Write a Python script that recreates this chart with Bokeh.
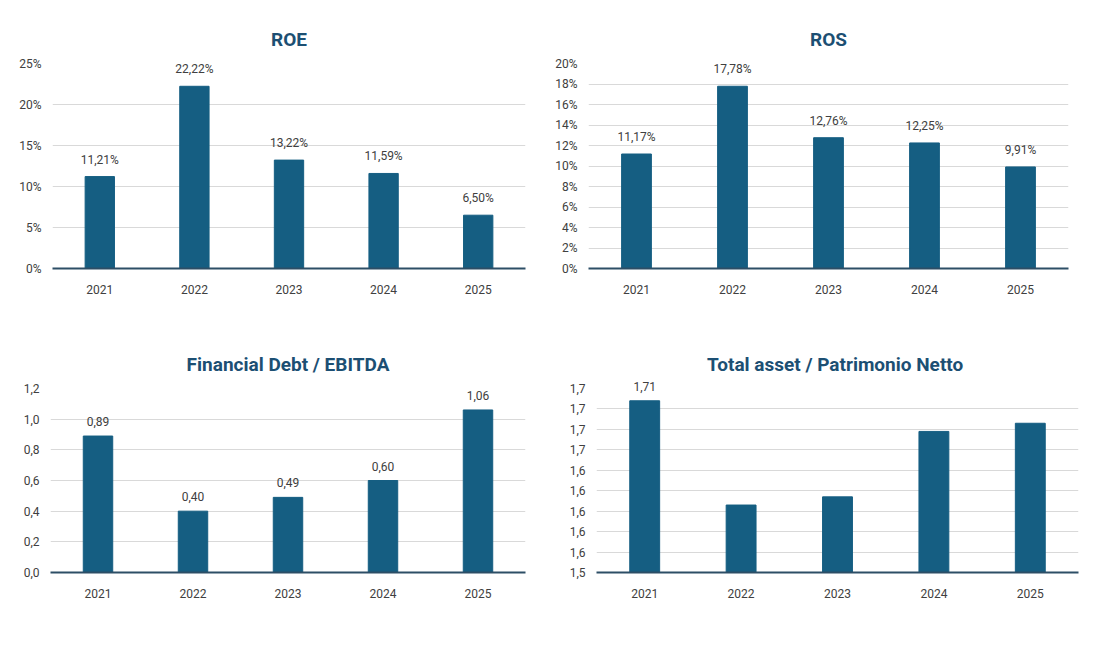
from bokeh.plotting import figure
from bokeh.layouts import row, column
from bokeh.models import ColumnDataSource, FixedTicker, Range1d
from bokeh.embed import file_html
from bokeh.resources import INLINE

years = ["2021", "2022", "2023", "2024", "2025"]
roe = [11.21, 22.22, 13.22, 11.59, 6.50]
ros = [11.17, 17.78, 12.76, 12.25, 9.91]
debt = [0.89, 0.40, 0.49, 0.60, 1.06]
assets = [1.708, 1.606, 1.614, 1.678, 1.686]
assets_lbl = ["1,71", "1,61", "1,62", "1,68", "1,69"]

BAR = "#155e82"
TITLE = "#1c4f73"
FONT = "Roboto"

def panel(title, vals, labels, ymin, ymax, ticks, ticklabels, w, h, bl, br, bt, bb):
    p = figure(x_range=years, y_range=Range1d(ymin, ymax), width=w, height=h,
               output_backend="svg", toolbar_location=None,
               min_border_left=bl, min_border_right=br, min_border_top=bt, min_border_bottom=bb)
    src = ColumnDataSource(dict(x=years, top=vals, lbl=labels))
    p.vbar(x="x", top="top", width=0.31, bottom=ymin, source=src, color=BAR)
    p.text(x="x", y="top", text="lbl", source=src, text_align="center", text_baseline="bottom",
           y_offset=-10, text_font_size="12px", text_color="#404040", text_font={"value": FONT})
    p.title.text = title
    p.title.align = "center"
    p.title.text_font = FONT
    p.title.text_font_size = "19px"
    p.title.text_color = TITLE
    p.title.text_font_style = "bold"
    p.title.standoff = 26
    p.yaxis.ticker = FixedTicker(ticks=ticks)
    p.yaxis.major_label_overrides = {t: l for t, l in zip(ticks, ticklabels)}
    for ax in (p.xaxis, p.yaxis):
        ax.major_tick_line_color = None
        ax.minor_tick_line_color = None
        ax.major_label_text_font = FONT
        ax.major_label_text_font_size = "12px"
        ax.major_label_text_color = "#404040"
    p.yaxis.axis_line_color = None
    p.xaxis.axis_line_color = "#2d4e66"
    p.xaxis.axis_line_width = 2
    p.xaxis.major_label_standoff = 10
    p.xgrid.grid_line_color = None
    p.ygrid.grid_line_color = "#d9d9d9"
    p.outline_line_color = None
    p.x_range.range_padding = 0.0
    return p

t1 = [0, 5, 10, 15, 20, 25]
p1 = panel("ROE", roe, [f"{v:.2f}%".replace(".", ",") for v in roe], 0, 25, t1,
           [f"{t}%" for t in t1], 548, 318, 52, 23, 63, 50)
t2 = list(range(0, 21, 2))
p2 = panel("ROS", ros, [f"{v:.2f}%".replace(".", ",") for v in ros], 0, 20, t2,
           [f"{t}%" for t in t2], 540, 318, 40, 20, 63, 50)
t3 = [0, 0.2, 0.4, 0.6, 0.8, 1.0, 1.2]
p3 = panel("Financial Debt / EBITDA", debt, [f"{v:.2f}".replace(".", ",") for v in debt], 0, 1.2, t3,
           [f"{t:.1f}".replace(".", ",") for t in t3], 548, 312, 50, 23, 70, 40)
t4 = [1.54 + 0.02 * i for i in range(10)]
t4l = ["1,5", "1,6", "1,6", "1,6", "1,6", "1,6", "1,7", "1,7", "1,7", "1,7"]
p4 = panel("Total asset /  Patrimonio Netto", assets, assets_lbl, 1.54, 1.72, t4, t4l,
           540, 312, 48, 10, 52, 58)
p4.text(x=["2021"], y=[1.708], text=["1,71"], text_align="center", text_baseline="bottom",
        y_offset=-10, text_font_size="12px", text_color="#404040", text_font={"value": FONT},
        level="overlay")
p4.renderers[1].visible = False

g = column(row(p1, p2), row(p3, p4))
open("out.html", "w").write(file_html(g, INLINE))
